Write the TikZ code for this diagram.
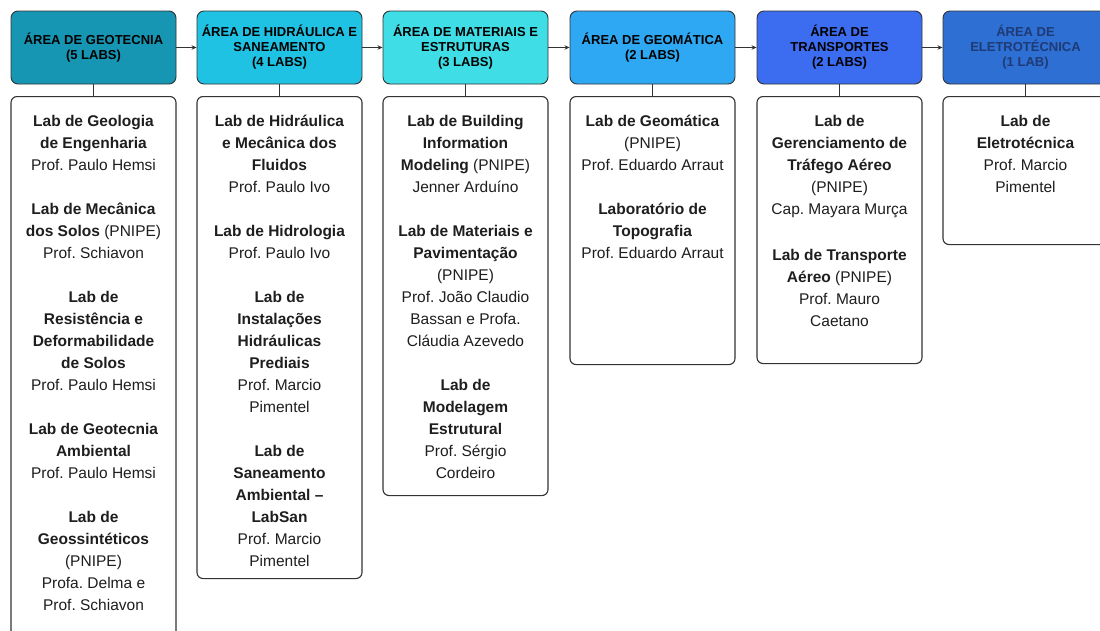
\documentclass[tikz,border=0pt]{standalone}
\usepackage{fontspec}
\setmainfont{Liberation Sans}
\usetikzlibrary{arrows.meta}
\frenchspacing
\definecolor{hA}{HTML}{1796B3}
\definecolor{hB}{HTML}{1FC2E3}
\definecolor{hC}{HTML}{3FDDE6}
\definecolor{hD}{HTML}{2EA8F2}
\definecolor{hE}{HTML}{3C6CF0}
\definecolor{hF}{HTML}{2E6FD3}
\definecolor{hFtext}{HTML}{1F3A75}
\definecolor{edge}{HTML}{333333}
\definecolor{bodytext}{HTML}{1E1E1E}
\begin{document}
\begin{tikzpicture}[x=1pt,y=-1pt,
  headbox/.style={draw=edge,line width=0.9pt,rounded corners=7pt,minimum width=165pt,minimum height=73pt,inner sep=0pt,align=center,text=black,font=\fontsize{13}{15}\selectfont\bfseries},
  labbox/.style={draw=edge,line width=1.1pt,rounded corners=6pt,minimum width=165pt,inner sep=0pt,anchor=north},
  labtext/.style={anchor=north,inner sep=0pt,align=center,text=bodytext,font=\fontsize{15.5}{22}\selectfont},
  flow/.style={draw=edge,line width=0.8pt,-{Stealth[length=5pt,width=4.5pt]}},
  link/.style={draw=edge,line width=0.8pt}
]
\useasboundingbox (0,0) rectangle (1100,630);
\clip (0,0) rectangle (1100,630);
\fill[white] (0,0) rectangle (1100,630);
\newcommand{\fs}{\rule{0pt}{16pt}}
% headers
\node[headbox,fill=hA] (h1) at (93.5,47.5) {ÁREA DE GEOTECNIA\\(5 LABS)};
\node[headbox,fill=hB] (h2) at (279.5,47.5) {ÁREA DE HIDRÁULICA E\\SANEAMENTO\\(4 LABS)};
\node[headbox,fill=hC] (h3) at (465.5,47.5) {ÁREA DE MATERIAIS E\\ESTRUTURAS\\(3 LABS)};
\node[headbox,fill=hD] (h4) at (652.5,47.5) {ÁREA DE GEOMÁTICA\\(2 LABS)};
\node[headbox,fill=hE] (h5) at (839.5,47.5) {ÁREA DE\\TRANSPORTES\\(2 LABS)};
\node[headbox,fill=hF,text=hFtext] (h6) at (1025.5,47.5) {ÁREA DE\\ELETROTÉCNICA\\(1 LAB)};
% body boxes
\node[labbox,minimum height=544pt] (b1) at (93.5,96) {};
\node[labbox,minimum height=482pt] (b2) at (279.5,96) {};
\node[labbox,minimum height=399pt] (b3) at (465.5,96) {};
\node[labbox,minimum height=268pt] (b4) at (652.5,96) {};
\node[labbox,minimum height=267pt] (b5) at (839.5,96) {};
\node[labbox,minimum height=148pt] (b6) at (1025.5,96) {};
% body texts
\node[labtext] (t1) at (93.5,110) {\fs\textbf{Lab de Geologia}\\\textbf{de Engenharia}\\Prof. Paulo Hemsi\\[22pt]
\textbf{Lab de Mecânica}\\\textbf{dos Solos} (PNIPE)\\Prof. Schiavon\\[22pt]
\textbf{Lab de}\\\textbf{Resistência e}\\\textbf{Deformabilidade}\\\textbf{de Solos}\\Prof. Paulo Hemsi\\[22pt]
\textbf{Lab de Geotecnia}\\\textbf{Ambiental}\\Prof. Paulo Hemsi\\[22pt]
\textbf{Lab de}\\\textbf{Geossintéticos}\\(PNIPE)\\Profa. Delma e\\Prof. Schiavon};
\node[labtext] (t2) at (279.5,110) {\fs\textbf{Lab de Hidráulica}\\\textbf{e Mecânica dos}\\\textbf{Fluidos}\\Prof. Paulo Ivo\\[22pt]
\textbf{Lab de Hidrologia}\\Prof. Paulo Ivo\\[22pt]
\textbf{Lab de}\\\textbf{Instalações}\\\textbf{Hidráulicas}\\\textbf{Prediais}\\Prof. Marcio\\Pimentel\\[22pt]
\textbf{Lab de}\\\textbf{Saneamento}\\\textbf{Ambiental –}\\\textbf{LabSan}\\Prof. Marcio\\Pimentel};
\node[labtext] (t3) at (465.5,110) {\fs\textbf{Lab de Building}\\\textbf{Information}\\\textbf{Modeling} (PNIPE)\\Jenner Arduíno\\[22pt]
\textbf{Lab de Materiais e}\\\textbf{Pavimentação}\\(PNIPE)\\Prof. João Claudio\\Bassan e Profa.\\Cláudia Azevedo\\[22pt]
\textbf{Lab de}\\\textbf{Modelagem}\\\textbf{Estrutural}\\Prof. Sérgio\\Cordeiro};
\node[labtext] (t4) at (652.5,110) {\fs\textbf{Lab de Geomática}\\(PNIPE)\\Prof. Eduardo Arraut\\[22pt]
\textbf{Laboratório de}\\\textbf{Topografia}\\Prof. Eduardo Arraut};
\node[labtext] (t5) at (839.5,110) {\fs\textbf{Lab de}\\\textbf{Gerenciamento de}\\\textbf{Tráfego Aéreo}\\(PNIPE)\\Cap. Mayara Murça\\[24pt]
\textbf{Lab de Transporte}\\\textbf{Aéreo} (PNIPE)\\Prof. Mauro\\Caetano};
\node[labtext] (t6) at (1025.5,110) {\fs\textbf{Lab de}\\\textbf{Eletrotécnica}\\Prof. Marcio\\Pimentel};
% connectors
\draw[flow] (h1) -- (h2);
\draw[flow] (h2) -- (h3);
\draw[flow] (h3) -- (h4);
\draw[flow] (h4) -- (h5);
\draw[flow] (h5) -- (h6);
\foreach \i in {1,...,6} {\draw[link] (h\i.south) -- (b\i.north);}
\end{tikzpicture}
\end{document}
